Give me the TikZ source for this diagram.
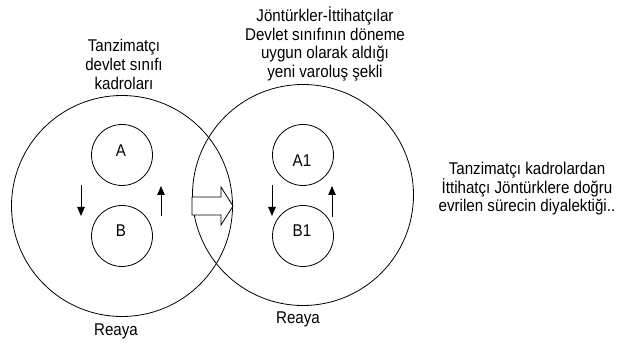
\documentclass[tikz,border=0pt]{standalone}
\usepackage{fontspec}
\setmainfont[FakeStretch=0.89]{Liberation Sans}
\usetikzlibrary{arrows.meta}
\begin{document}
\begin{tikzpicture}[x=1pt,y=-1pt,
  bigc/.style={draw,circle,line width=0.8pt,minimum size=221pt,inner sep=0pt},
  smallc/.style={draw,circle,line width=0.8pt,minimum size=61pt,inner sep=0pt},
  txt/.style={inner sep=0pt,font=\fontsize{17}{17.5}\selectfont,align=center},
  smallarrow/.style={line width=0.8pt,-{Triangle[width=7.5pt,length=9pt]}},
  blockarrow/.style={draw,line width=0.8pt,fill=white}]
\useasboundingbox (0,0) rectangle (619,347);
% big circles
\node[bigc] (L) at (122,206) {};
\node[bigc] (R) at (303,195) {};
% small circles
\node[smallc] (A) at (122,155) {};
\node[smallc] (B) at (122,236) {};
\node[smallc] (A1) at (303,155) {};
\node[smallc] (B1) at (303,236) {};
% labels in circles
\node[txt] (At) at (121,151) {A};
\node[txt] (Bt) at (121,231) {B};
\node[txt] (A1t) at (302,161) {A1};
\node[txt] (B1t) at (302,231) {B1};
% small arrows
\coordinate (d1s) at (81,185); \coordinate (d1e) at (81,216);
\coordinate (u1s) at (161,216); \coordinate (u1e) at (161,186);
\coordinate (d2s) at (272,185); \coordinate (d2e) at (272,216);
\coordinate (u2s) at (332,217); \coordinate (u2e) at (332,186);
\draw[smallarrow] (d1s) -- (d1e);
\draw[smallarrow] (u1s) -- (u1e);
\draw[smallarrow] (d2s) -- (d2e);
\draw[smallarrow] (u2s) -- (u2e);
% block arrow
\draw[blockarrow] (192,197) -- (221,197) -- (221,187) -- (233,206) -- (221,225) -- (221,215) -- (192,215) -- cycle;
% titles
\node[txt,font=\fontsize{17}{19}\selectfont] (T1) at (124,64) {Tanzimatçı\\devlet sınıfı\\kadroları};
\node[txt,font=\fontsize{17}{18.8}\selectfont] (T2) at (325,44) {Jöntürkler-İttihatçılar\\Devlet sınıfının döneme\\uygun olarak aldığı\\yeni varoluş şekli};
\node[txt,font=\fontsize{17}{18.5}\selectfont] (T3) at (527,189) {Tanzimatçı kadrolardan\\İttihatçı Jöntürklere doğru\\evrilen sürecin diyalektiği..};
\node[txt,anchor=base] (R1) at (116,336) {Reaya};
\node[txt,anchor=base] (R2) at (298,324) {Reaya};
\end{tikzpicture}
\end{document}
